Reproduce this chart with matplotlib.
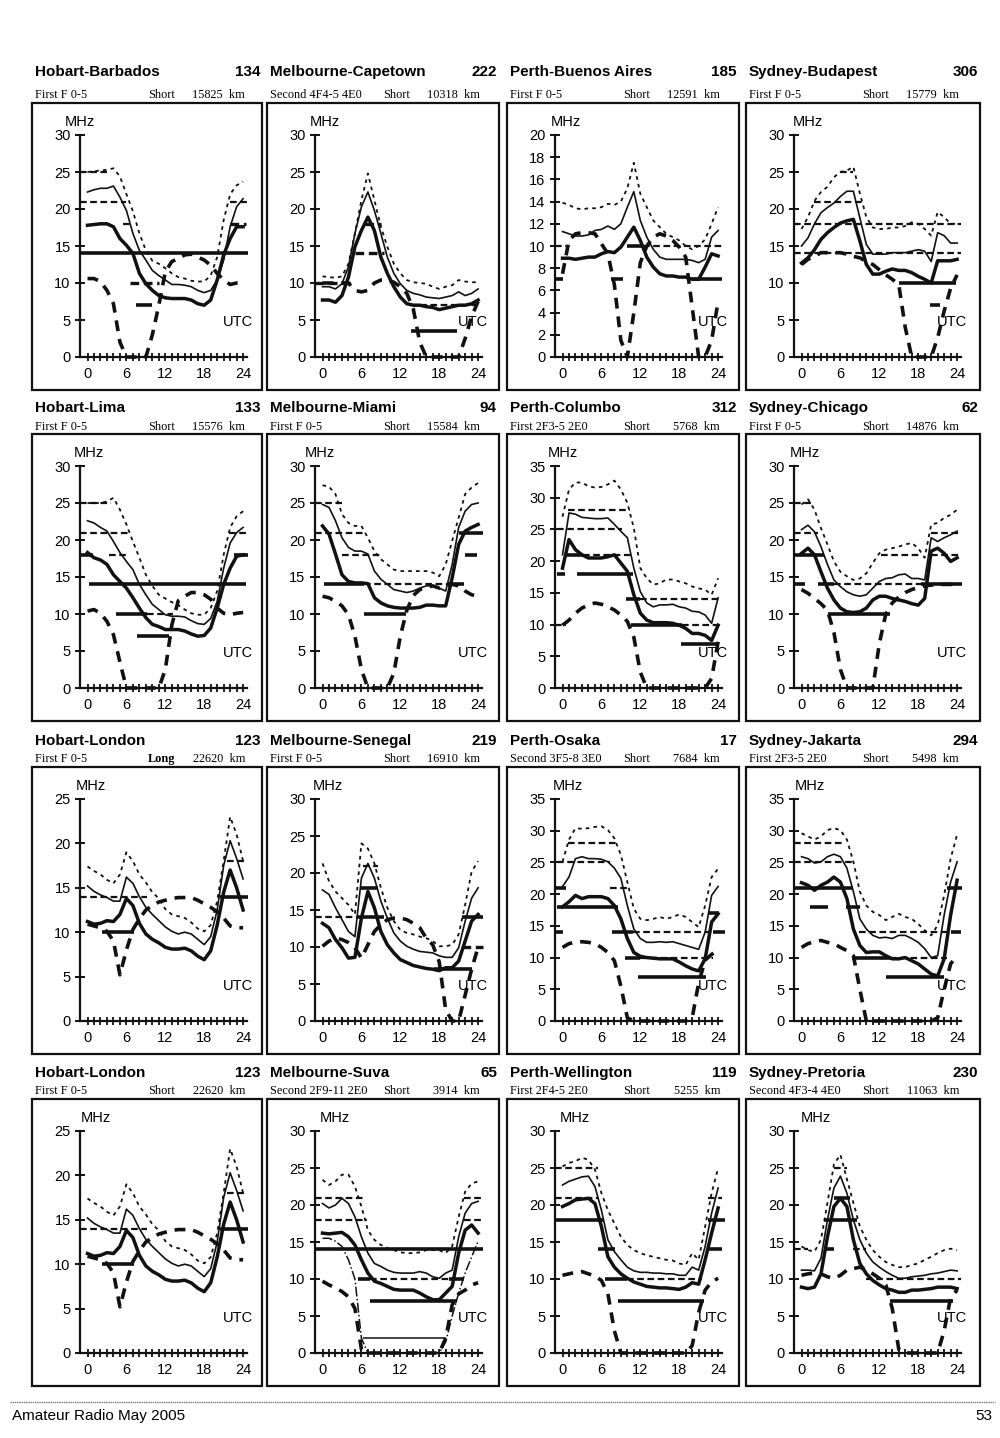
import matplotlib
matplotlib.use("Agg")
import matplotlib.pyplot as plt
from matplotlib.patches import Rectangle
from matplotlib import font_manager

plt.rcParams['font.family'] = ['Liberation Sans', 'DejaVu Sans']

hours = list(range(25))

# --- curves: dot = upper decile, muf = median, owf = thick, luf = lower (dashed)
hb_dot = [25, 25.1, 25.2, 25.3, 25.5, 24.4, 22, 19.7, 16.7, 14.4, 13, 12.6, 12, 11.3, 10.8, 10.6, 10.3, 10.2, 10.2, 11, 13.5, 18.5, 22, 23.2, 23.7]
hb_muf = [22.3, 22.6, 22.8, 22.8, 23.1, 21.6, 19.8, 16.7, 14.4, 13.1, 11.7, 11, 10.4, 9.8, 9.8, 9.7, 9.5, 9, 8.7, 9, 10.4, 13.1, 17.6, 20.3, 21.4]
hb_owf = [17.8, 17.9, 18, 18, 17.6, 16, 15.1, 14, 11.3, 9.9, 9, 8.3, 8, 7.9, 7.9, 7.9, 7.7, 7.2, 7, 7.7, 10.4, 13.8, 16, 17.6, 17.6]
hb_luf = [10.6, 10.6, 10.2, 9, 7.2, 2, 0, 0, 0, 0, 3, 7, 11.5, 12.9, 13.3, 13.8, 13.9, 13.5, 13.1, 12.4, 11.3, 10.4, 9.8, 10, 10.1]
hb_bands = [(25, -1.1, 3, 'd'), (21, -1.1, 6, 'd'), (21, 22, 24.6, 'd'), (18, 5.5, 7, 'd'), (18, 22, 24.4, 'D'),
            (14, -1.1, 24.8, 'T'), (10, 6.5, 11, 'D'), (7, 7.5, 10, 'T')]

mc_dot = [10.9, 10.8, 10.7, 10.9, 12.6, 16.7, 21.2, 24.8, 21.2, 17.6, 14.9, 12.6, 11.3, 10.4, 10.1, 10, 9.9, 9.5, 9.2, 9.5, 9.7, 10.4, 10.2, 10.1, 10.1]
mc_muf = [9.5, 9.5, 9.2, 9.9, 12.2, 16.7, 20.3, 22.3, 19.8, 16.7, 13.5, 11.3, 9.9, 9, 8.6, 8.4, 8.1, 8, 7.9, 8.1, 8.3, 8.8, 8.3, 8.6, 9.2]
mc_owf = [7.7, 7.7, 7.4, 8.3, 10.8, 14.9, 17.1, 18.9, 17.1, 13.5, 11.3, 9.5, 8.1, 7.2, 7, 7, 6.8, 6.7, 6.4, 6.6, 6.8, 7, 7, 7.2, 7.7]
mc_luf = [10, 10, 10, 10, 10, 9, 8.8, 9, 10, 10.4, 10.4, 10.1, 9.5, 8.6, 6.5, 2, 0, 0, 0, 0, 0, 0, 2.5, 5.5, 7.5]
mc_bands = [(10, -1.1, 5, 'D'), (14, 5, 9.5, 'D'), (18, 6.5, 9, 'D'), (7, 13.5, 24, 'd'), (3.5, 13.6, 20.8, 'T')]

pb_dot = [13.9, 13.7, 13.4, 13.3, 13.4, 13.4, 13.5, 13.8, 13.7, 14, 15.2, 17.5, 14.7, 13.5, 12.3, 11.7, 11.1, 10.8, 10.5, 10, 9.7, 10, 10.6, 12, 13.5]
pb_muf = [11.3, 11.1, 10.9, 10.9, 11, 11.4, 11.5, 11.8, 11.5, 12, 13.5, 14.9, 12.3, 10.8, 9.7, 9, 8.8, 8.8, 8.8, 8.8, 8.7, 8.5, 8.8, 10.8, 11.4]
pb_owf = [8.9, 8.9, 8.8, 8.9, 9, 9, 9.3, 9.5, 9.4, 9.9, 10.8, 11.7, 10.5, 9, 8.1, 7.5, 7.3, 7.3, 7.2, 7.2, 7, 7, 8.1, 9.3, 9.1]
pb_luf = [7.5, 10.5, 11.1, 11.2, 11.2, 11.1, 10.2, 9.3, 6.5, 1.5, 0, 4, 8.5, 10, 10.8, 11.1, 10.9, 10.5, 9.9, 9, 4.5, 0, 0, 1.5, 5]
pb_bands = [(7, -1.1, 0, 'T'), (7, 7.5, 9.3, 'T'), (7, 20, 24.6, 'T'), (10, -1.1, 0.5, 'd'), (10, 10, 12.4, 'T'), (10, 12.4, 24.6, 'd')]

sb_dot = [17.3, 18.9, 21.1, 22.3, 23, 24.3, 25, 25.2, 25.7, 22.1, 18.9, 17.5, 17.3, 17.3, 17.5, 17.5, 17.7, 18.2, 18, 17.3, 16.4, 19.6, 18.9, 18, 18]
sb_muf = [15, 16.1, 18, 19.5, 20.2, 20.8, 21.7, 22.4, 22.4, 18.8, 15.2, 13.9, 13.9, 13.9, 14.1, 14.1, 14.1, 14.3, 14.5, 14.3, 12.9, 16.8, 16.4, 15.4, 15.4]
sb_owf = [12.7, 13.4, 14.5, 15.9, 16.8, 17.5, 18.1, 18.4, 18.6, 15.7, 12.5, 11.2, 11.2, 11.6, 11.9, 11.7, 11.7, 11.4, 10.9, 10.5, 10, 13, 13, 13, 13.2]
sb_luf = [12.5, 13.2, 13.6, 14.1, 14.1, 14.1, 14.1, 13.9, 13.6, 13.4, 12.9, 12.5, 11.8, 11.1, 10.5, 9.8, 4, 0, 0, 0, 0, 2.6, 6.2, 9.3, 11.1]
sb_bands = [(25, 6, 8, 'd'), (21, 2, 9.5, 'd'), (18, -1.1, 24.6, 'd'), (14, -1.1, 24.6, 'd'), (10, 15, 23.8, 'T'), (7, 19.8, 21.3, 'T')]

hl_dot = [25, 25, 25, 25.2, 25.7, 24.1, 22.1, 19.8, 17.6, 15.3, 13.8, 12.6, 12.1, 11.6, 11.2, 10.6, 10.1, 9.9, 9.9, 10.8, 13.1, 18, 21.7, 23.2, 23.9]
hl_muf = [22.6, 22.3, 21.7, 21.2, 19.8, 18.3, 17.1, 16, 14, 12.6, 11.3, 10.6, 9.9, 9.7, 9.7, 9.6, 9.1, 8.7, 8.6, 9.4, 11.7, 16.2, 19.6, 21, 21.7]
hl_owf = [18.3, 17.6, 17.3, 16.7, 15.3, 14.4, 13.5, 12.2, 10.8, 9.5, 8.6, 8.3, 7.9, 7.9, 7.9, 7.7, 7.3, 7, 7.1, 8.1, 10.8, 14, 16.2, 17.8, 18]
hl_luf = [10.4, 10.6, 10.1, 9, 7.2, 3.5, 0, 0, 0, 0, 0, 0, 2.5, 8.5, 11.8, 12.4, 12.9, 12.9, 12.6, 12, 10.8, 10.1, 9.9, 10.1, 10.2]
hl_bands = [(25, -1.1, 3.6, 'd'), (21, -1.1, 6.2, 'd'), (21, 21.8, 24.8, 'd'), (18, -1.1, 0.8, 'T'), (18, 3.3, 6.2, 'd'),
            (18, 22.6, 24.8, 'T'), (14, 0.3, 24.4, 'T'), (10, 4.4, 9.2, 'T'), (10, 9.2, 13.2, 'd'), (7, 7.7, 12.6, 'T')]

mm_dot = [27.4, 27.2, 26.2, 23.5, 22.3, 21.9, 21.9, 20.3, 18.5, 17.4, 16.7, 16, 15.8, 15.8, 15.8, 15.8, 15.8, 15.6, 15.1, 16.7, 19.9, 23, 26.2, 27.1, 27.7]
mm_muf = [24.8, 24.4, 22.6, 20.3, 19, 18.5, 18.5, 18.1, 15.8, 14.7, 14, 13.3, 13.1, 12.9, 13.1, 13.5, 13.8, 13.8, 13.5, 13.1, 16.7, 21.7, 23.9, 24.8, 25]
mm_owf = [21.9, 20.8, 18.1, 15.3, 14.4, 14.2, 14.2, 14.1, 12.2, 11.5, 11.1, 10.9, 10.8, 10.8, 10.8, 10.9, 11.2, 11.2, 11.1, 11.1, 14.9, 19.4, 21.2, 21.7, 22.1]
mm_luf = [12.4, 12.2, 11.7, 11.1, 9.9, 7, 2.5, 0, 0, 0, 0, 2, 7, 10.5, 12.5, 13.3, 13.6, 13.8, 13.5, 13.8, 14, 13.8, 13.1, 12.6, 12.4]
mm_bands = [(25, -1.1, 3, 'd'), (21, -1.1, 6.5, 'd'), (21, 21, 24.8, 'T'), (18, 3, 9, 'd'), (18, 22, 23.8, 'T'),
            (14, 0.3, 6.4, 'T'), (14, 6.4, 19.2, 'd'), (14, 19.2, 21.8, 'T'), (10, 6.4, 12.8, 'T')]

pc_dot = [27, 31.3, 32.4, 32.4, 31.8, 31.6, 31.7, 32.1, 32.7, 31.3, 29.2, 25.2, 18.9, 17.3, 16.3, 16.5, 17.1, 17.1, 16.8, 16.5, 16, 15.7, 15.5, 14.7, 17.3]
pc_muf = [21, 27.6, 27.4, 26.9, 26.8, 26.7, 26.7, 26.8, 25.8, 24.7, 23.7, 18.9, 15.2, 13.4, 12.8, 13.1, 13.1, 13.2, 12.8, 12.6, 12.1, 12, 11.5, 10.2, 14.2]
pc_owf = [18.9, 23.4, 21.8, 21, 20.5, 20.5, 20.5, 20.7, 21, 19.7, 18.4, 14.7, 11.8, 10.7, 10.3, 10.3, 10.3, 10.2, 9.9, 9.4, 8.6, 8.6, 8.3, 7.5, 9.9]
pc_luf = [9.9, 10.7, 11.8, 12.6, 13.1, 13.4, 13.2, 12.8, 12.3, 11.5, 10.5, 8, 2.5, 0, 0, 0, 0, 0, 0, 0, 0, 0, 0, 1.5, 7.3]
pc_bands = [(28, 0.9, 10.4, 'd'), (25, -0.9, 9.1, 'd'), (21, 0.4, 3.2, 'T'), (21, 3.2, 10.5, 'd'), (18, -0.9, 0.4, 'T'),
            (18, 2.2, 10.9, 'T'), (14, 9.8, 12, 'T'), (14, 12, 24.3, 'd'), (10, 10.6, 18.4, 'T'), (10, 18.4, 24.6, 'd'),
            (10, -1.1, 0.5, 'd'), (7, 18.2, 24, 'T')]

sc_dot = [24.8, 25.5, 24.1, 21.6, 19.4, 17.1, 15.7, 15.1, 14.6, 14.8, 15.5, 16.9, 18.2, 18.7, 18.9, 19.1, 19.4, 19.6, 18.9, 17.6, 22.1, 22.3, 23, 23.4, 24.1]
sc_muf = [21.4, 22, 21.1, 19.1, 16.7, 14.6, 13.7, 13, 12.6, 12.4, 12.6, 13.5, 14.4, 14.8, 14.9, 15.3, 15.4, 14.8, 14.8, 14.6, 20.3, 19.8, 20.3, 20.7, 21.2]
sc_owf = [18.2, 18.9, 18, 15.7, 13.5, 11.9, 10.8, 10.3, 10.2, 10.3, 10.8, 11.9, 12.4, 12.4, 12.1, 11.9, 11.7, 11.4, 11.2, 12.1, 18.5, 18.9, 18.2, 17.1, 17.6]
sc_luf = [13.3, 12.8, 12.1, 11.4, 10.5, 7.5, 2.5, 0, 0, 0, 0, 0, 6, 10, 11.5, 12.3, 12.9, 13.3, 13.6, 13.8, 13.9, 14, 14, 14, 14]
sc_bands = [(25, -1.1, 1.5, 'd'), (21, -1.1, 2.5, 'd'), (21, 20, 24.6, 'd'), (18, -1.1, 3.5, 'T'), (18, 12.2, 18.5, 'd'),
            (18, 20, 24.6, 'd'), (14, -1.1, 0.5, 'T'), (14, 2.5, 5, 'T'), (14, 5, 18.5, 'd'), (14, 18.5, 24.8, 'T'),
            (10, 4.1, 13.7, 'T')]

hlo_dot = [17.4, 16.9, 16.5, 15.9, 15.5, 16.5, 19, 18, 16.5, 15.6, 14.5, 13.8, 12.6, 12, 11.8, 11.6, 11.1, 10.4, 10.1, 10.8, 13.5, 18, 23, 21, 18]
hlo_muf = [15.2, 14.6, 14.2, 13.9, 13.5, 13.5, 16.2, 15.5, 14, 12.8, 12, 11.3, 10.6, 10.1, 9.8, 10, 9.8, 9.2, 8.6, 9.5, 12.5, 17.5, 20.3, 18.3, 16]
hlo_owf = [11.2, 10.9, 11, 11.3, 11.2, 12, 13.8, 13, 11, 9.8, 9.2, 8.8, 8.3, 8.1, 8.1, 8.2, 7.9, 7.3, 6.9, 7.9, 10.8, 14.5, 17, 15, 12.5]
hlo_luf = [10.9, 10.7, 10.5, 10.1, 9, 5.2, 8, 10.3, 11.5, 12.5, 13, 13.4, 13.6, 13.8, 13.9, 13.9, 13.9, 13.6, 13.2, 12.8, 12.3, 11.6, 10.7, 10.5, 10.5]
hlo_bands = [(14, -1.1, 9.2, 'd'), (10, 2.3, 7.2, 'T'), (18, 21.5, 24.4, 'd'), (14, 20.5, 24.8, 'T')]

ms_dot = [21.3, 18.9, 17.5, 16.6, 15.7, 14.4, 24, 23.3, 21.3, 18, 15.3, 13.5, 12.3, 11.9, 11.7, 11.4, 11.2, 10.8, 10.1, 10.1, 10.3, 11.7, 15.7, 20.2, 21.6]
ms_muf = [17.7, 17.1, 15.3, 13.7, 12.1, 11.4, 19.3, 21.3, 19.3, 16.2, 13.9, 11.9, 10.8, 10.1, 9.7, 9.4, 9.3, 9.2, 8.8, 8.6, 8.6, 9.9, 13.5, 16.6, 18]
ms_owf = [13.2, 12.6, 11, 9.9, 8.5, 8.6, 13.9, 17.5, 15.3, 12.1, 10.3, 9.2, 8.3, 7.9, 7.5, 7.3, 7.1, 7, 6.8, 7.2, 7.2, 8.1, 10.8, 13.5, 14.4]
ms_luf = [10.1, 10.8, 11.2, 11, 10.6, 9.9, 8.5, 10.3, 12.1, 13, 13.7, 13.9, 13.9, 13.7, 13.2, 12.6, 11.2, 10.3, 8, 1.5, 0, 0, 3.5, 7, 10]
ms_bands = [(14, -1.1, 5.3, 'd'), (14, 5.3, 9.5, 'T'), (18, 5.8, 8.6, 'T'), (21, 6.2, 8.5, 'd'), (7, 17.2, 23, 'T'),
            (14, 21.5, 24.8, 'T'), (10, 21.5, 24.8, 'D')]

po_dot = [25.1, 28.6, 30.4, 30.3, 30.4, 30.6, 30.7, 30.1, 28.8, 26.2, 21.9, 17.7, 16.1, 15.9, 16.1, 16.4, 16.1, 16.4, 16.8, 16.4, 15.6, 14.8, 18.2, 22.7, 24]
po_muf = [21.2, 22.7, 25.6, 25.9, 25.6, 25.6, 25.5, 25.1, 24.1, 22.5, 18.2, 14.5, 13, 12.4, 12.4, 12.5, 12.4, 12.5, 12.2, 11.9, 11.6, 11.3, 14, 19.8, 21.2]
po_owf = [18, 18.8, 19.8, 19.3, 19.6, 19.6, 19.6, 19.3, 18.2, 16.1, 13, 10.8, 10.2, 10, 9.9, 9.8, 9.8, 9.8, 9.3, 8.7, 8.2, 7.9, 9.8, 15.6, 16.9]
po_luf = [11.6, 12.2, 12.4, 12.5, 12.4, 12.2, 11.6, 10.8, 9.5, 5.5, 0.5, 0, 0, 0, 0, 0, 0, 0, 0, 0, 0.5, 6, 9.6, 10.5, 11.2]
po_bands = [(28, 0.9, 8.6, 'd'), (25, -0.9, 7.3, 'd'), (21, -1.1, 0.5, 'T'), (21, 7.3, 10.4, 'd'), (18, -0.9, 8.6, 'T'),
            (17, 22.5, 24.2, 'T'), (14, -1.1, 0, 'T'), (14, 7.6, 10.9, 'T'), (14, 10.9, 23.2, 'd'), (14, 23.2, 25, 'T'),
            (10, 9.6, 11.9, 'T'), (10, 11.9, 23.2, 'd'), (7, 11.7, 22.2, 'T')]

sj_dot = [29.6, 29.1, 28.6, 29.1, 30.1, 30.4, 30.1, 28.6, 25.1, 20.4, 18.2, 17.2, 16.7, 15.9, 16.4, 16.9, 16.4, 16.1, 15.3, 14.3, 13.5, 15.1, 19.8, 25.6, 29.4]
sj_muf = [25.9, 25.6, 24.9, 25.1, 25.9, 26.3, 25.9, 24.1, 20.4, 16.1, 14.5, 13.5, 13.1, 13.2, 13, 13.5, 13.5, 13, 12.4, 11.4, 10, 10.3, 16.7, 21.9, 25.1]
sj_owf = [21.8, 21.4, 20.6, 21.4, 21.9, 22.7, 21.9, 19.3, 14.5, 11.9, 10.8, 10.9, 10.9, 10.3, 9.8, 9.8, 10, 9.5, 9, 8.2, 7.4, 7.1, 9.8, 16.7, 22.2]
sj_luf = [11.6, 12.2, 12.5, 12.7, 12.4, 12.2, 11.6, 11.1, 10.3, 5, 0, 0, 0, 0, 0, 0, 0, 0, 0, 0, 0, 0.5, 5, 9, 10.3]
sj_bands = [(28, -1.1, 6.7, 'd'), (25, -1.1, 8, 'd'), (21, -1.1, 8, 'T'), (21, 22.5, 24.8, 'T'), (18, 1.3, 4.1, 'T'),
            (18, 6.8, 9, 'T'), (14, 8.8, 22.5, 'd'), (14, 23, 24.6, 'T'), (10, 7.8, 13.7, 'T'), (10, 13.7, 22.5, 'd'),
            (7, 13, 22, 'T')]

su_dot = [23.4, 22.7, 23.2, 24.1, 24.1, 22.5, 19.8, 16.6, 15.3, 14.6, 14.2, 13.9, 13.6, 13.5, 13.5, 13.6, 13.9, 13.9, 13.9, 13.5, 14.4, 18.4, 21.8, 22.9, 23.2]
su_muf = [20.2, 19.6, 20, 20.9, 20.2, 18.4, 15.7, 13.5, 12.1, 11.7, 11.2, 10.9, 10.8, 10.8, 10.8, 11, 10.8, 10.3, 10.1, 10.8, 11.2, 15.7, 18.9, 20.2, 20.5]
su_owf = [16.2, 16.1, 16.2, 16.3, 15.7, 14.6, 12.6, 10.8, 9.7, 9.4, 9, 8.6, 8.5, 8.5, 8.5, 8.1, 7.6, 7.2, 7.2, 8.1, 9, 13.5, 16.6, 17.3, 16.2]
su_luf = [9.7, 9.2, 8.8, 8.3, 7.6, 6, 0.5, 0, 0, 0, 0, 0, 0, 0, 0, 0, 0, 0, 0, 2, 6.5, 8, 8.5, 9.2, 9.5]
su_aux = [15.5, 15.5, 15.1, 14.4, 12.6, 10, 2, 0, 0, 0, 0, 0, 0, 0, 0, 0, 0, 0, 0, 1.5, 5, 8.1, 10.8, 13, 15.1]
su_bands = [(21, -1.1, 6.2, 'd'), (21, 21.8, 24.8, 'd'), (18, -1.1, 6.8, 'd'), (18, 21.8, 24.8, 'd'), (14, -1.1, 24.8, 'T'),
            (10, 5.4, 7.4, 'T'), (10, 7.4, 19.5, 'd'), (10, 19.5, 21.8, 'T'), (7, 7.4, 20.8, 'T'), (2, 6.2, 19, 't')]

pw_dot = [25.2, 25.7, 25.9, 26.4, 26.1, 24.8, 21.6, 19.3, 17.5, 15.7, 14.6, 13.9, 13.5, 13.2, 13, 12.8, 12.6, 12.5, 12.1, 11.9, 13.5, 12.6, 17.1, 21.6, 25]
pw_muf = [22.7, 23.2, 23.5, 23.8, 23.9, 22.5, 19.3, 15.3, 13.7, 12.6, 11.6, 11.1, 10.9, 10.9, 10.8, 10.8, 10.7, 10.7, 10.5, 10.5, 11.6, 11.2, 14.4, 18.9, 22.3]
pw_owf = [19.8, 20.2, 20.7, 20.8, 20.9, 20.2, 17.1, 13, 11.6, 10.7, 10.1, 9.6, 9.3, 9, 8.9, 8.8, 8.8, 8.7, 8.6, 8.9, 9.5, 9.3, 12.6, 16.2, 19.6]
pw_luf = [10.5, 10.7, 10.9, 11, 10.7, 10.4, 9.8, 8, 3, 0, 0, 0, 0, 0, 0, 0, 0, 0, 0, 0, 1, 5.5, 8.5, 9.6, 10.1]
pw_bands = [(25, -1.1, 5.5, 'd'), (21, -1.1, 5.5, 'd'), (21, 22.5, 24.6, 'd'), (18, -1.1, 6.3, 'T'), (18, 22.5, 25, 'T'),
            (14, 5.5, 8.1, 'T'), (14, 22.5, 24.6, 'T'), (10, 6.5, 9.9, 'T'), (10, 9.9, 21.5, 'd'), (7, 8.6, 21.9, 'T')]

sp_dot = [14.4, 13.9, 13.7, 15.3, 20.3, 25.5, 26.8, 23.5, 20.3, 17.1, 15.3, 13.9, 13, 12.3, 11.9, 11.6, 11.6, 11.9, 12.1, 12.6, 13, 13.5, 13.9, 14.1, 13.9]
sp_muf = [11.2, 11.2, 11.1, 12.8, 18, 22.3, 23.9, 21.6, 18, 15.3, 13.5, 12.3, 11.6, 11, 10.5, 10.1, 10.1, 10.3, 10.4, 10.5, 10.7, 10.8, 11, 11.2, 11.1]
sp_owf = [8.9, 8.7, 8.9, 10.7, 15.7, 19.8, 20.9, 19.8, 15.3, 12.1, 10.7, 9.8, 9.2, 8.7, 8.5, 8.2, 8.2, 8.5, 8.5, 8.6, 8.7, 8.9, 8.9, 8.9, 8.7]
sp_luf = [10.5, 10.7, 10.8, 10.7, 10.3, 10.1, 10.5, 11.2, 11.4, 11.6, 11.2, 10.7, 10.1, 9.2, 6, 0.5, 0, 0, 0, 0, 0, 0, 3, 7.5, 8.5]
sp_bands = [(25, 5, 7, 'd'), (21, 5, 7.5, 'T'), (18, 3.5, 8.5, 'T'), (14, -1.1, 1, 'd'), (14, 3.5, 5, 'T'),
            (14, 8, 10, 'd'), (10, 10, 24.6, 'd'), (7, 13.7, 23.3, 'T')]

names = ['Hobart-Barbados', 'Melbourne-Capetown', 'Perth-Buenos Aires', 'Sydney-Budapest',
         'Hobart-Lima', 'Melbourne-Miami', 'Perth-Columbo', 'Sydney-Chicago',
         'Hobart-London', 'Melbourne-Senegal', 'Perth-Osaka', 'Sydney-Jakarta',
         'Hobart-London', 'Melbourne-Suva', 'Perth-Wellington', 'Sydney-Pretoria']
numbers = ['134', '222', '185', '306', '133', '94', '312', '62', '123', '219', '17', '294', '123', '65', '119', '230']
modes = ['First F 0-5', 'Second 4F4-5 4E0', 'First F 0-5', 'First F 0-5',
         'First F 0-5', 'First F 0-5', 'First 2F3-5 2E0', 'First F 0-5',
         'First F 0-5', 'First F 0-5', 'Second 3F5-8 3E0', 'First 2F3-5 2E0',
         'First F 0-5', 'Second 2F9-11 2E0', 'First 2F4-5 2E0', 'Second 4F3-4 4E0']
paths = ['Short'] * 8 + ['Long'] + ['Short'] * 7
dists = ['15825', '10318', '12591', '15779', '15576', '15584', '5768', '14876',
         '22620', '16910', '7684', '5498', '22620', '3914', '5255', '11063']
ymaxes = [30, 30, 20, 30, 30, 30, 35, 30, 25, 30, 35, 35, 25, 30, 30, 30]

dots = [hb_dot, mc_dot, pb_dot, sb_dot, hl_dot, mm_dot, pc_dot, sc_dot, hlo_dot, ms_dot, po_dot, sj_dot, hlo_dot, su_dot, pw_dot, sp_dot]
mufs = [hb_muf, mc_muf, pb_muf, sb_muf, hl_muf, mm_muf, pc_muf, sc_muf, hlo_muf, ms_muf, po_muf, sj_muf, hlo_muf, su_muf, pw_muf, sp_muf]
owfs = [hb_owf, mc_owf, pb_owf, sb_owf, hl_owf, mm_owf, pc_owf, sc_owf, hlo_owf, ms_owf, po_owf, sj_owf, hlo_owf, su_owf, pw_owf, sp_owf]
lufs = [hb_luf, mc_luf, pb_luf, sb_luf, hl_luf, mm_luf, pc_luf, sc_luf, hlo_luf, ms_luf, po_luf, sj_luf, hlo_luf, su_luf, pw_luf, sp_luf]
bands = [hb_bands, mc_bands, pb_bands, sb_bands, hl_bands, mm_bands, pc_bands, sc_bands,
         hlo_bands, ms_bands, po_bands, sj_bands, hlo_bands, su_bands, pw_bands, sp_bands]
extras = {13: su_aux}

# --- page layout in pixels
W, H = 1000, 1438
col_left = [32, 267, 507, 746]
col_width = [230, 232, 232, 234]
row_top = [103, 434, 767, 1099]
title_y = [72, 408, 741, 1073]
sub_y = [95, 427, 759, 1091]
box_h = 287
mhz_dx = [0, 10, 11, 14, 9, 5, 8, 11, 11, 13, 13, 16, 16, 20, 20, 22]

INK = '#111111'
band_style = {'d': dict(lw=1.6, ls=(0, (3, 1.6))),
              'D': dict(lw=2.4, ls=(0, (2.6, 1.4))),
              'T': dict(lw=2.6, ls='-'),
              't': dict(lw=1.1, ls='-')}
serif = ['Liberation Serif', 'DejaVu Serif']

def fx(px):
    return px / W

def fy(py):
    return 1 - py / H

fig = plt.figure(figsize=(W / 100, H / 100), dpi=100)
fig.patch.set_facecolor('white')

for i in range(16):
    r, c = divmod(i, 4)
    bl, bw, bt = col_left[c], col_width[c], row_top[r]
    ymax = ymaxes[i]

    fig.add_artist(Rectangle((fx(bl), fy(bt + box_h)), bw / W, box_h / H, transform=fig.transFigure,
                             fill=False, lw=1.6, ec=INK))
    fig.text(fx(bl + 3), fy(title_y[r]), names[i], fontsize=11, fontweight='bold', va='center', ha='left')
    fig.text(fx(bl + bw - 2), fy(title_y[r]), numbers[i], fontsize=11, fontweight='bold', va='center', ha='right')
    fig.text(fx(bl + 3), fy(sub_y[r]), modes[i], family=serif, fontsize=8.8, va='center', ha='left')
    fig.text(fx(bl + 116), fy(sub_y[r]), paths[i], family=serif, fontsize=8.8, va='center', ha='left',
             fontweight='bold' if paths[i] == 'Long' else 'normal')
    fig.text(fx(bl + 213), fy(sub_y[r]), dists[i] + '  km', family=serif, fontsize=8.8, va='center', ha='right')

    ax = fig.add_axes([fx(bl + 48), fy(bt + 254), 167 / W, 222 / H])
    ax.patch.set_visible(False)
    ax.set_xlim(-1.16, 24.6)
    ax.set_ylim(0, ymax)
    for s in ['top', 'right']:
        ax.spines[s].set_visible(False)
    for s in ['left', 'bottom']:
        ax.spines[s].set_linewidth(1.6)
        ax.spines[s].set_color(INK)
    ax.set_xticks([0, 6, 12, 18, 24])
    ax.set_xticks(hours, minor=True)
    ax.tick_params(axis='x', which='both', direction='inout', length=6, width=1.3, pad=4, labelsize=10.5, color=INK)
    ystep = 2 if ymax == 20 else 5
    ax.set_yticks(list(range(0, ymax + 1, ystep)))
    ax.tick_params(axis='y', direction='inout', length=6.5, width=1.4, pad=3.5, labelsize=10.5, color=INK)

    for lvl, x0, x1, st in bands[i]:
        ax.plot([x0, x1], [lvl, lvl], color=INK, clip_on=False, solid_capstyle='butt', **band_style[st])

    ax.plot(hours, dots[i], color=INK, lw=1.3, ls=(0, (2, 2.3)), clip_on=False)
    ax.plot(hours, mufs[i], color=INK, lw=1.2, clip_on=False)
    ax.plot(hours, owfs[i], color=INK, lw=2.5, clip_on=False)
    ax.plot(hours, lufs[i], color=INK, lw=2.6, ls=(0, (3, 2.2)), clip_on=False)
    if i in extras:
        ax.plot(hours, extras[i], color=INK, lw=1.1, ls='-.', clip_on=False)

    ax.text(mhz_dx[i] / 167, 1.058, 'MHz', transform=ax.transAxes, ha='center', va='center', fontsize=10.5)
    ax.text(0.946, 0.158, 'UTC', transform=ax.transAxes, ha='center', va='center', fontsize=10.5)

# --- footer
installed = {f.name for f in font_manager.fontManager.ttflist}
foot_font = 'Liberation Sans Narrow' if 'Liberation Sans Narrow' in installed else 'Liberation Sans'
foot_size = 12.5 if foot_font == 'Liberation Sans Narrow' else 11
fig.add_artist(plt.Line2D([fx(10), fx(995)], [fy(1402), fy(1402)], transform=fig.transFigure,
                          color='#777777', lw=1, ls=(0, (1, 0.6))))
fig.text(fx(12), fy(1416), 'Amateur Radio May 2005', family=foot_font, fontsize=foot_size, va='center', ha='left')
fig.text(fx(992), fy(1416), '53', family=foot_font, fontsize=foot_size, va='center', ha='right')

fig.savefig('out.png', dpi=100, facecolor='white')
